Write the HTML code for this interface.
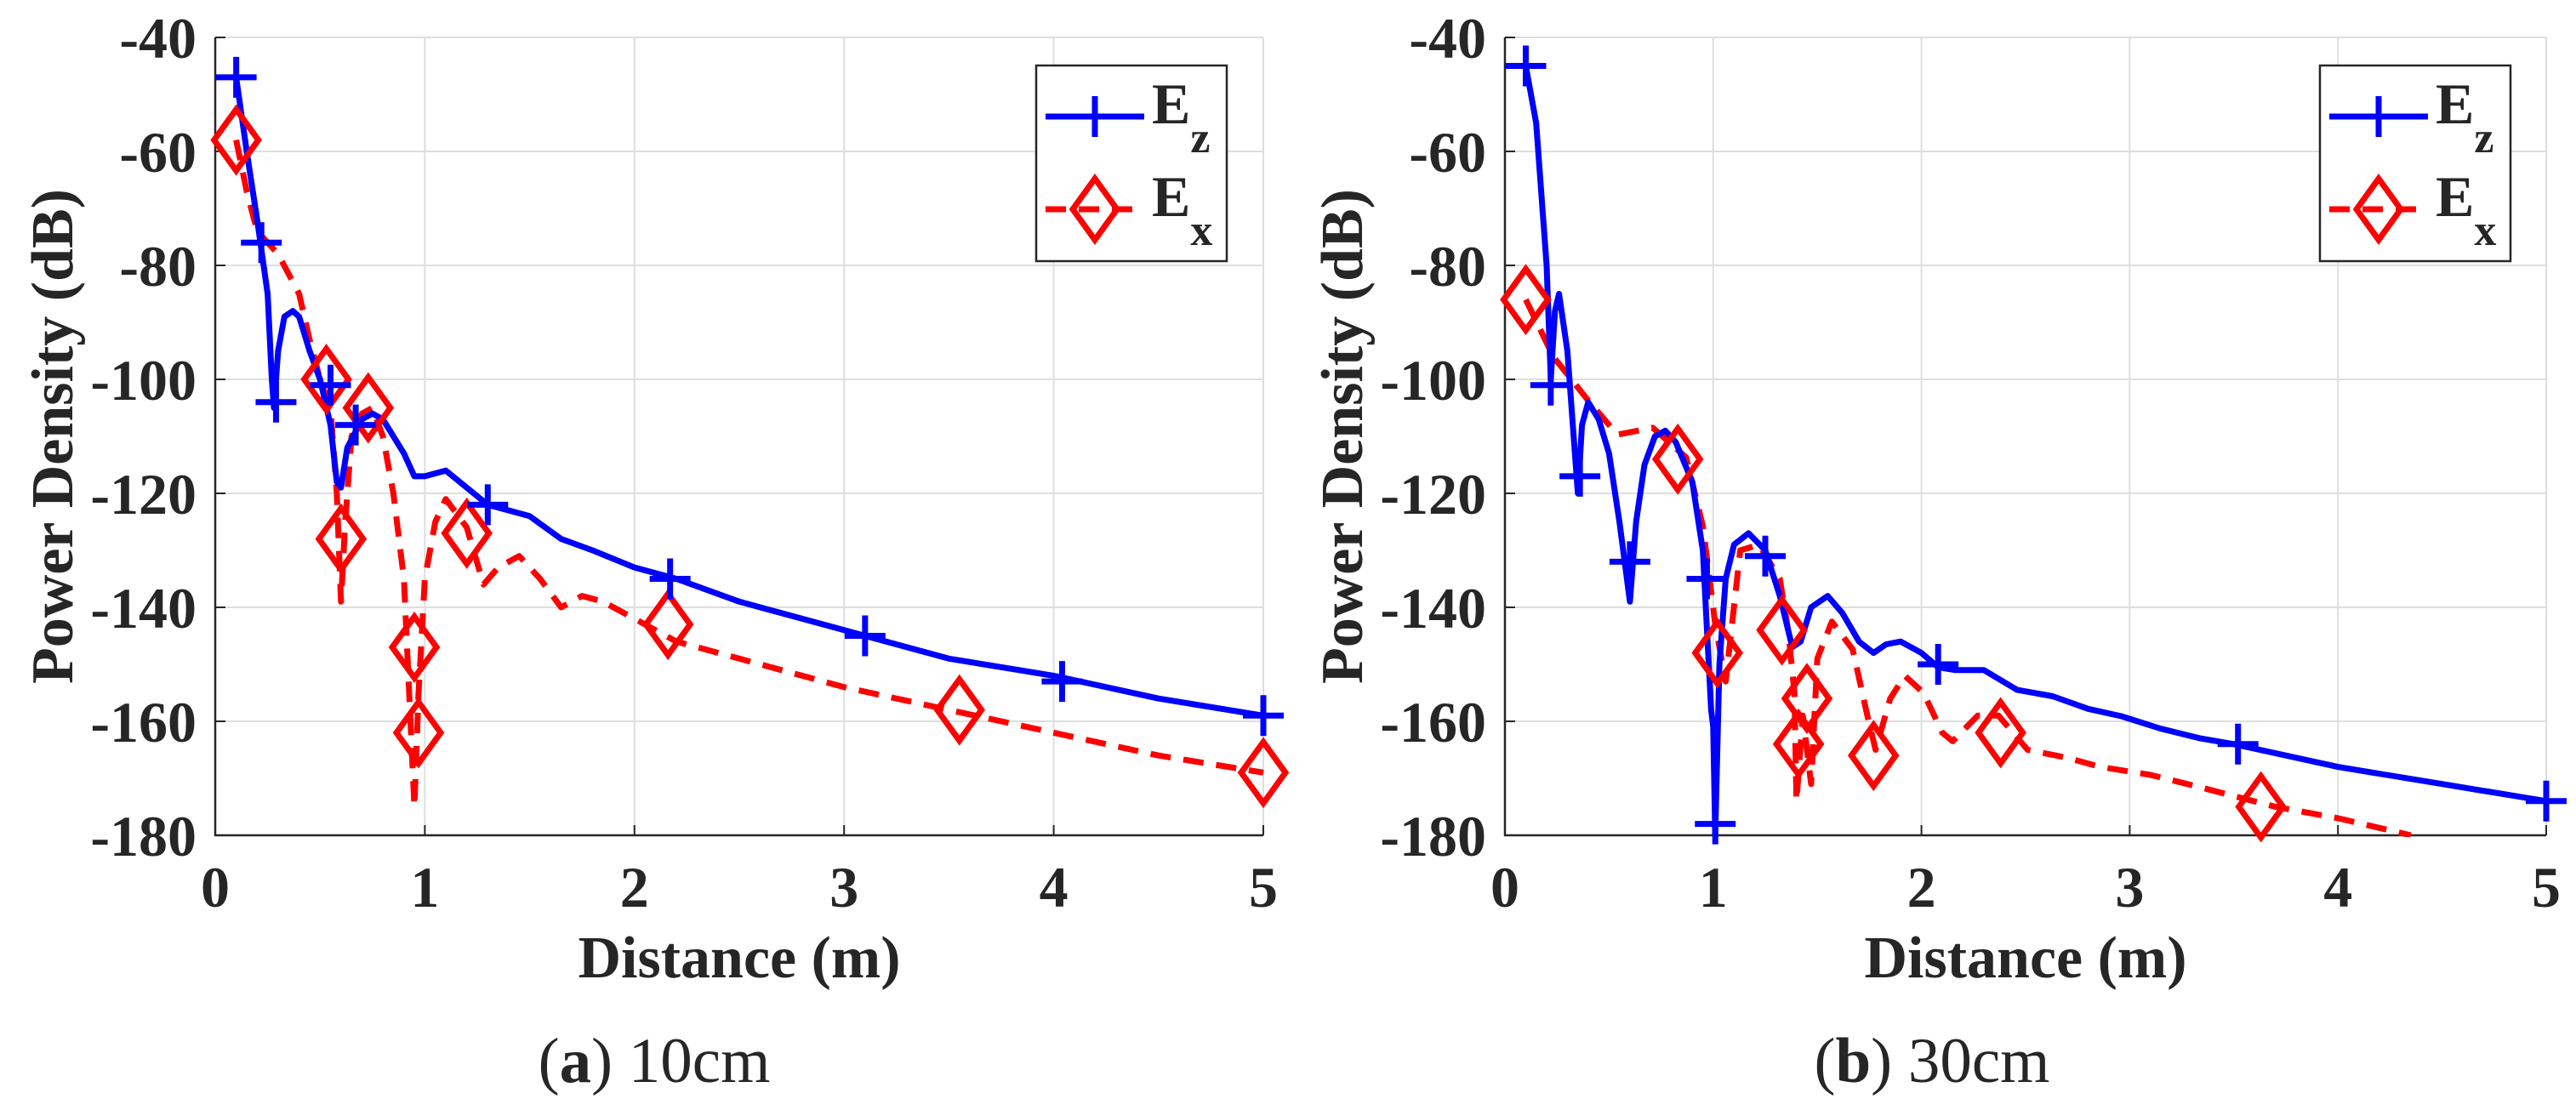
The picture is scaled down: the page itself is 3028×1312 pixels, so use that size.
<!DOCTYPE html>
<html><head><meta charset="utf-8"><style>
body{margin:0;background:#fff}
svg text{font-family:"Liberation Serif",serif;fill:#262626}
</style></head><body>
<svg id="chart" width="3028" height="1307" viewBox="0 0 3028 1307" xmlns="http://www.w3.org/2000/svg"></svg>
<script>
const xTicks=[0,1,2,3,4,5];
const yTicks=[-40,-60,-80,-100,-120,-140,-160,-180];
const captions=["10cm","30cm"];
const captionLetters=["a","b"];
const ezLineA=[[0.1,-47],[0.15,-60],[0.2,-72],[0.25,-85],[0.27,-100],[0.28,-105],[0.3,-95],[0.33,-89],[0.37,-88],[0.4,-89],[0.45,-95],[0.5,-100],[0.55,-108],[0.58,-118],[0.6,-119],[0.63,-112],[0.7,-107],[0.75,-106],[0.8,-107],[0.9,-113],[0.95,-117],[1.0,-117],[1.1,-116],[1.2,-119],[1.3,-122],[1.5,-124],[1.65,-128],[1.8,-130],[2.0,-133],[2.2,-135],[2.5,-139],[3.0,-144],[3.5,-149],[4.0,-152],[4.5,-156],[5.0,-159]];
const ezMarkA=[[0.1,-47],[0.22,-76],[0.29,-104],[0.55,-101],[0.67,-108],[1.3,-122],[2.17,-135],[3.1,-145],[4.04,-153],[5.0,-159]];
const exLineA=[[0.1,-58],[0.15,-67],[0.2,-74],[0.3,-78],[0.4,-85],[0.45,-93],[0.5,-100],[0.55,-105],[0.58,-120],[0.6,-139],[0.62,-125],[0.65,-110],[0.7,-106],[0.75,-105],[0.8,-110],[0.85,-120],[0.9,-135],[0.95,-175],[0.97,-155],[1.0,-135],[1.05,-125],[1.1,-121],[1.2,-126],[1.28,-136],[1.35,-133],[1.45,-131],[1.55,-135],[1.65,-140],[1.75,-138],[1.85,-139],[2.0,-142],[2.2,-146],[2.5,-149],[3.0,-154],[3.5,-158],[4.0,-162],[4.5,-166],[5.0,-169]];
const exMarkA=[[0.1,-58],[0.53,-100],[0.73,-105],[0.6,-128],[0.95,-147],[0.97,-162],[1.2,-127],[2.16,-143],[3.55,-158],[5.0,-169]];
const ezLineB=[[0.1,-45],[0.15,-55],[0.2,-80],[0.22,-100],[0.24,-88],[0.26,-85],[0.3,-95],[0.35,-120],[0.37,-108],[0.4,-104],[0.45,-107],[0.5,-113],[0.55,-125],[0.6,-139],[0.63,-125],[0.67,-115],[0.72,-110],[0.77,-109],[0.82,-111],[0.9,-118],[0.95,-130],[0.99,-158],[1.0,-161],[1.01,-180],[1.03,-150],[1.06,-135],[1.1,-129],[1.17,-127],[1.25,-130],[1.32,-138],[1.38,-147],[1.42,-146],[1.47,-140],[1.55,-138],[1.62,-141],[1.7,-146],[1.77,-148],[1.83,-146.5],[1.9,-146],[2.0,-148],[2.08,-150.5],[2.16,-151],[2.3,-151],[2.46,-154.5],[2.63,-155.6],[2.8,-157.8],[2.96,-159.1],[3.15,-161.3],[3.34,-163],[3.5,-164],[4.0,-168],[4.5,-171],[5.0,-174]];
const ezMarkB=[[0.1,-45],[0.22,-101],[0.36,-117],[0.6,-132],[0.97,-135],[1.01,-178],[1.25,-131],[2.08,-150],[3.52,-164],[5.0,-174]];
const exLineB=[[0.1,-86],[0.232,-96],[0.4,-103.7],[0.54,-109.7],[0.71,-108.5],[0.87,-113.7],[0.95,-125.7],[1.01,-143],[1.06,-153],[1.13,-130],[1.22,-129],[1.32,-135],[1.36,-144],[1.39,-155],[1.4,-174],[1.43,-159],[1.47,-171],[1.5,-149],[1.57,-142.5],[1.67,-147.4],[1.74,-159],[1.78,-165],[1.85,-156],[1.92,-152],[2.01,-155],[2.1,-162],[2.15,-163.5],[2.27,-159],[2.37,-159],[2.51,-165],[2.7,-166.4],[2.86,-168],[3.1,-169.4],[3.33,-171.5],[3.7,-175],[4.0,-177],[4.35,-180]];
const exMarkB=[[0.1,-86],[0.83,-114],[1.02,-148],[1.33,-144],[1.45,-156],[1.41,-164],[1.77,-166],[2.38,-162],[3.63,-175]];

const NS="http://www.w3.org/2000/svg";
const svg=document.getElementById('chart');
function mk(tag,attrs,parent){const e=document.createElementNS(NS,tag);for(const k in attrs)e.setAttribute(k,attrs[k]);(parent||svg).appendChild(e);return e;}

function panel(idx,left,right,ezL,ezM,exL,exM,legX,capOff){
  const top=44,bottom=982;
  const g=mk('g',{});
  
  
  const sx=v=>left+(v-0)/(5-0)*(right-left);
  const sy=v=>top+(-40-v)/(140)*(bottom-top);
  const cid='clip'+idx;
  const cp=mk('clipPath',{id:cid},g);mk('rect',{x:left,y:top-2,width:right-left+40,height:bottom-top+4},cp);
  xTicks.forEach(t=>{
    const l=mk('line',{x1:sx(t),x2:sx(t),y1:top,y2:bottom,stroke:'#dedede','stroke-width':2},g);
    
    
    mk('line',{x1:sx(t),x2:sx(t),y1:bottom,y2:bottom-12,stroke:'#262626','stroke-width':2},g);
    const tx=mk('text',{x:sx(t),y:bottom+84,'text-anchor':'middle','font-size':68,'font-weight':'bold'},g);
    tx.textContent=t;
    
    
  });
  yTicks.forEach(t=>{
    const l=mk('line',{x1:left,x2:right,y1:sy(t),y2:sy(t),stroke:'#dedede','stroke-width':2},g);
    
    
    mk('line',{x1:left,x2:left+12,y1:sy(t),y2:sy(t),stroke:'#262626','stroke-width':2},g);
    const tx=mk('text',{x:left-22,y:sy(t)+24,'text-anchor':'end','font-size':68,'font-weight':'bold'},g);
    tx.textContent=t;
    
    
  });
  const ax=mk('path',{d:`M${left},${top}V${bottom}H${right}`,fill:'none',stroke:'#262626','stroke-width':2.5},g);
  
  
  const cg=mk('g',{'clip-path':`url(#${cid})`},g);
  const pts=a=>a.map(p=>sx(p[0]).toFixed(1)+','+sy(p[1]).toFixed(1)).join(' ');
  const ex=mk('polyline',{points:pts(exL),fill:'none',stroke:'#ff0000','stroke-width':7,'stroke-dasharray':'24,15','stroke-linejoin':'round'},cg);
  
  
  const ez=mk('polyline',{points:pts(ezL),fill:'none',stroke:'#0000ff','stroke-width':7,'stroke-linejoin':'round'},cg);
  
  
  exM.forEach(p=>{const x=sx(p[0]),y=sy(p[1]);
    const d=mk('path',{d:`M${x},${y-36}L${x+26},${y}L${x},${y+36}L${x-26},${y}Z`,fill:'none',stroke:'#ff0000','stroke-width':7},g);
    
    });
  ezM.forEach(p=>{const x=sx(p[0]),y=sy(p[1]);
    const d=mk('path',{d:`M${x-24},${y}H${x+24}M${x},${y-24}V${y+24}`,stroke:'#0000ff','stroke-width':7},g);
    
    });
  const lg=mk('g',{},g);
  
  
  mk('rect',{x:legX,y:77,width:224,height:230,fill:'#fff',stroke:'#262626','stroke-width':2.5},lg);
  mk('line',{x1:legX+11,x2:legX+127,y1:137,y2:137,stroke:'#0000ff','stroke-width':7},lg);
  mk('path',{d:`M${legX+69},113V161`,stroke:'#0000ff','stroke-width':7},lg);
  mk('line',{x1:legX+11,x2:legX+127,y1:246,y2:246,stroke:'#ff0000','stroke-width':7,'stroke-dasharray':'24,15'},lg);
  mk('path',{d:`M${legX+69},${246-36}L${legX+95},246L${legX+69},${246+36}L${legX+43},246Z`,fill:'none',stroke:'#ff0000','stroke-width':7},lg);
  const t1=mk('text',{x:legX+136,y:145,'font-size':68,'font-weight':'bold',fill:'#000'},lg);t1.innerHTML='E<tspan dy="34" font-size="52">z</tspan>';
  
  const t2=mk('text',{x:legX+136,y:254,'font-size':68,'font-weight':'bold',fill:'#000'},lg);t2.innerHTML='E<tspan dy="34" font-size="52">x</tspan>';
  
  const xt=mk('text',{x:(left+right)/2,y:1149,'text-anchor':'middle','font-size':70,'font-weight':'bold'},g);
  xt.textContent='Distance (m)';
  
  const cy=(top+bottom)/2;
  const yx=left-168;
  const yt=mk('text',{x:yx,y:cy,'text-anchor':'middle','font-size':70,'font-weight':'bold',transform:`rotate(-90 ${yx} ${cy})`},g);
  yt.textContent='Power Density (dB)';
  
  const cap=mk('text',{x:(left+right)/2+capOff,y:1272,'text-anchor':'middle','font-size':75,fill:'#000'},g);
  cap.innerHTML='(<tspan font-weight="bold">'+captionLetters[idx]+'</tspan>) '+captions[idx];
  
}
panel(0,253,1485,ezLineA,ezMarkA,exLineA,exMarkA,1218,-100);
panel(1,1769,2993,ezLineB,ezMarkB,exLineB,exMarkB,2727,-110);
</script>
</body></html>
